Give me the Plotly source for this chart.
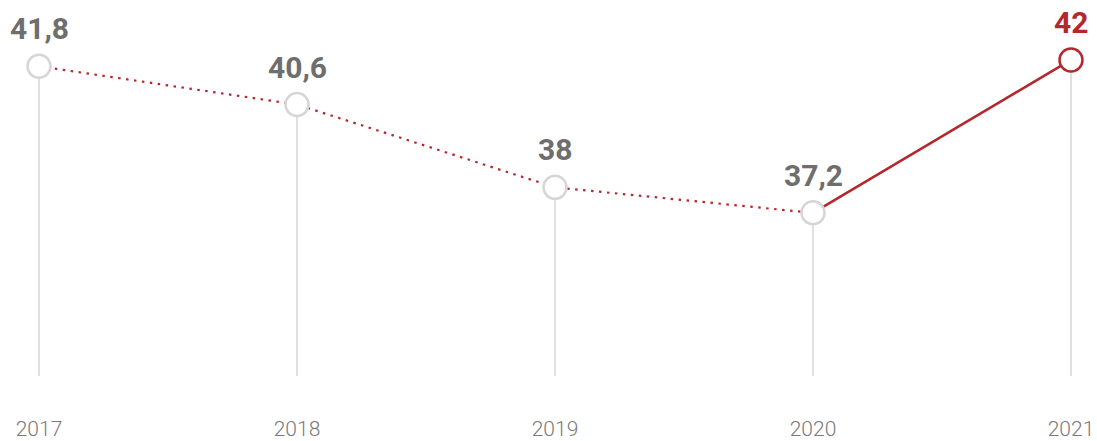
import plotly.graph_objects as go

years = [2017, 2018, 2019, 2020, 2021]
values = [41.8, 40.6, 38.0, 37.2, 42.0]
labels = ["41,8", "40,6", "38", "37,2", "42"]
tick_labels = ["2017", "2018", "2019", "2020", "2021"]

RED = "#b3272d"
GRAY_TXT = "#6e6e6e"
LINE_GRAY = "#d6d6d6"
Y_MIN = 32.08
Y_MAX = 43.88

fig = go.Figure()

# drop lines via error bars
fig.add_trace(go.Scatter(
    x=years, y=values, mode="markers",
    marker=dict(size=1, color="rgba(0,0,0,0)"),
    error_y=dict(type="data", symmetric=False, array=[0] * len(values),
                 arrayminus=[v - Y_MIN for v in values],
                 color=LINE_GRAY, thickness=1.5, width=0),
    hoverinfo="skip", showlegend=False))

# dotted segment
fig.add_trace(go.Scatter(
    x=years[:4], y=values[:4], mode="lines",
    line=dict(color=RED, width=2.2, dash="2.5px,5.5px"),
    hoverinfo="skip", showlegend=False))

# solid segment
fig.add_trace(go.Scatter(
    x=years[3:], y=values[3:], mode="lines",
    line=dict(color=RED, width=2.5),
    hoverinfo="skip", showlegend=False))

# markers
fig.add_trace(go.Scatter(
    x=years, y=values, mode="markers",
    marker=dict(size=23, color="white",
                line=dict(color=[LINE_GRAY] * 4 + [RED], width=2.5)),
    showlegend=False))

for i, (x, v, t) in enumerate(zip(years, values, labels)):
    fig.add_annotation(
        x=x, y=v, text=t, showarrow=False, yanchor="bottom", yshift=19,
        borderpad=0,
        font=dict(family="Roboto", size=30, weight="bold",
                  color=RED if i == len(years) - 1 else GRAY_TXT))

fig.update_layout(
    width=1097, height=441,
    margin=dict(l=0, r=0, t=0, b=61),
    paper_bgcolor="white", plot_bgcolor="white",
    xaxis=dict(range=[2017 - 39 / 258, 2021 + 26 / 258],
               tickvals=years, ticktext=tick_labels,
               showgrid=False, zeroline=False, showline=False, ticks="",
               ticklabelstandoff=38,
               tickfont=dict(family="Roboto", size=21, weight=300, color="#7a7a7a")),
    yaxis=dict(range=[Y_MIN, Y_MAX], visible=False, fixedrange=True),
)

fig.write_html(
    "out.html",
    config={"displayModeBar": False},
    post_script="document.body.style.margin='0';document.body.style.overflow='hidden';",
)
